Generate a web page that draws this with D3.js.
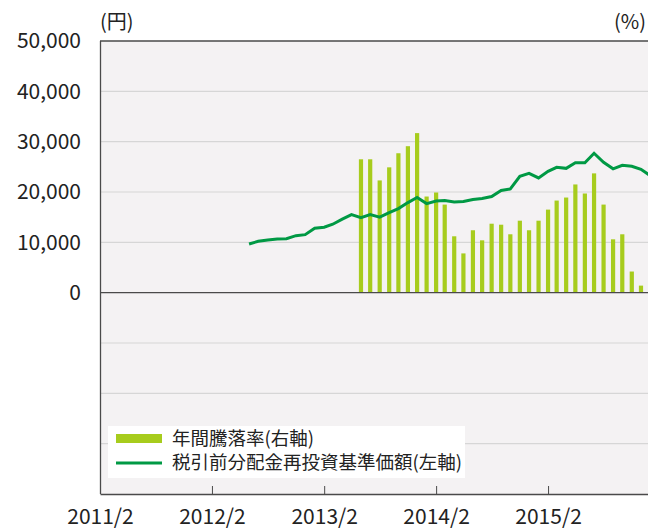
<!DOCTYPE html>
<html>
<head>
<meta charset="utf-8">
<script src="https://cdn.jsdelivr.net/npm/d3@7"></script>
<style>
body { margin: 0; background: #fff; }
text { font-family: "Noto Sans CJK JP", "Noto Sans", sans-serif; fill: #222; }
</style>
</head>
<body>
<div id="chart"></div>
<script>
// monthly NAV (left axis, yen), 2012/6 - 2016/1
var navStart = new Date(2012, 5, 1);
var navValues = [9670, 10200, 10470, 10670, 10730, 11330, 11530,
    12800, 13000, 13600, 14600, 15500, 14900, 15500, 15000, 15900, 16700, 17900, 18900,
    17700, 18200, 18300, 18000, 18100, 18500, 18700, 19100, 20300, 20600, 23100, 23700,
    22800, 24100, 24900, 24700, 25800, 25800, 27700, 25900, 24600, 25300, 25100, 24500,
    23200];

// annual return (right axis, %), 2013/6 - 2015/12
var retStart = new Date(2013, 5, 1);
var retValues = [53, 53, 44.6, 49.8, 55.4, 58.2, 63.4, 38.2, 39.8, 35, 22.4, 15.6,
    24.8, 20.8, 27.4, 27, 23.2, 28.6, 24.8, 28.6, 33, 36.6, 37.8, 43, 39.4, 47.4,
    35, 21.2, 23.2, 8.4, 2.8];

var leftTicks = [50000, 40000, 30000, 20000, 10000, 0];
var gridValues = [40000, 30000, 20000, 10000, -10000, -20000, -30000];
var xTicks = [new Date(2011, 1, 1), new Date(2012, 1, 1), new Date(2013, 1, 1),
    new Date(2014, 1, 1), new Date(2015, 1, 1)];
var legendLabels = ["年間騰落率(右軸)", "税引前分配金再投資基準価額(左軸)"];

function monthAfter(start, i) {
    return new Date(start.getFullYear(), start.getMonth() + i, 1);
}
var navData = navValues.map(function(v, i) { return { date: monthAfter(navStart, i), value: v }; });
var retData = retValues.map(function(v, i) { return { date: monthAfter(retStart, i), value: v }; });

var w = 648, h = 528;
var plotL = 100, plotT = 41, plotB = 494, plotR = 660;

var x = d3.scaleTime()
    .domain([new Date(2011, 1, 1), new Date(2016, 1, 1)])
    .range([plotL, plotR]);
var yLeft = d3.scaleLinear().domain([-40000, 50000]).range([plotB, plotT]);
var yRight = d3.scaleLinear().domain([-80, 100]).range([plotB, plotT]);

var svg = d3.select("#chart").append("svg")
    .attr("width", w)
    .attr("height", h);

svg.append("rect")
    .attr("x", plotL).attr("y", plotT)
    .attr("width", plotR - plotL).attr("height", plotB - plotT)
    .attr("fill", "#f4f2f3");

svg.selectAll(".grid")
    .data(gridValues)
    .enter().append("line")
    .attr("x1", plotL).attr("x2", plotR)
    .attr("y1", function(d) { return yLeft(d); })
    .attr("y2", function(d) { return yLeft(d); })
    .attr("stroke", "#d6d6d6")
    .attr("stroke-width", 1.2);

// bars
var barW = 4.2;
svg.selectAll(".bar")
    .data(retData)
    .enter().append("rect")
    .attr("x", function(d) { return x(d.date) - barW / 2; })
    .attr("y", function(d) { return yRight(d.value); })
    .attr("width", barW)
    .attr("height", function(d) { return yRight(0) - yRight(d.value); })
    .attr("fill", "#a7cc1d");

// zero line
svg.append("line")
    .attr("x1", plotL).attr("x2", plotR)
    .attr("y1", yLeft(0)).attr("y2", yLeft(0))
    .attr("stroke", "#4a4a4a").attr("stroke-width", 1.3);

// top border
svg.append("line")
    .attr("x1", plotL).attr("x2", plotR)
    .attr("y1", plotT).attr("y2", plotT)
    .attr("stroke", "#4a4a4a").attr("stroke-width", 1.3);

var line = d3.line()
    .x(function(d) { return x(d.date); })
    .y(function(d) { return yLeft(d.value); });

svg.append("path")
    .datum(navData)
    .attr("d", line)
    .attr("fill", "none")
    .attr("stroke", "#009944")
    .attr("stroke-width", 3);

// x axis
var xAxis = d3.axisBottom(x)
    .tickValues(xTicks)
    .tickSizeInner(-8)
    .tickSizeOuter(0)
    .tickFormat(function(d) { return d.getFullYear() + "/" + (d.getMonth() + 1); });
var gx = svg.append("g")
    .attr("transform", "translate(0," + plotB + ")")
    .call(xAxis);
gx.select(".domain").attr("stroke", "#4a4a4a").attr("stroke-width", 1.3);
gx.selectAll(".tick line").attr("stroke", "#4a4a4a");
gx.selectAll(".tick text")
    .attr("y", 23)
    .attr("dy", "0.35em")
    .style("font-size", "21px")
    .style("font-family", "'Noto Sans CJK JP', sans-serif")
    .attr("fill", "#222");

// left axis
var yAxis = d3.axisLeft(yLeft)
    .tickValues(leftTicks)
    .tickSize(0)
    .tickFormat(d3.format(","));
var gy = svg.append("g")
    .attr("transform", "translate(" + plotL + ",0)")
    .call(yAxis);
gy.select(".domain").attr("stroke", "#4a4a4a").attr("stroke-width", 1.3)
    .attr("d", "M0.5," + plotT + "V" + plotB);
gy.selectAll(".tick text")
    .attr("x", -19)
    .style("font-size", "21px")
    .style("font-family", "'Noto Sans CJK JP', sans-serif")
    .attr("fill", "#222");

svg.append("text")
    .attr("x", plotL)
    .attr("y", 29)
    .style("font-size", "20px")
    .text("(円)");

svg.append("text")
    .attr("x", 646)
    .attr("y", 29)
    .attr("text-anchor", "end")
    .style("font-size", "20px")
    .text("(%)");

// legend
var lg = svg.append("g");
lg.append("rect")
    .attr("x", 108).attr("y", 426)
    .attr("width", 357).attr("height", 52)
    .attr("fill", "#fff");
lg.append("rect")
    .attr("x", 116).attr("y", 434)
    .attr("width", 46).attr("height", 9)
    .attr("fill", "#a7cc1d");
lg.append("line")
    .attr("x1", 116).attr("x2", 162)
    .attr("y1", 463).attr("y2", 463)
    .attr("stroke", "#009944").attr("stroke-width", 3);
lg.selectAll(".lgtext")
    .data(legendLabels)
    .enter().append("text")
    .attr("x", 172)
    .attr("y", function(d, i) { return 445 + i * 24; })
    .style("font-size", "18.5px")
    .text(function(d) { return d; });
</script>
</body>
</html>
